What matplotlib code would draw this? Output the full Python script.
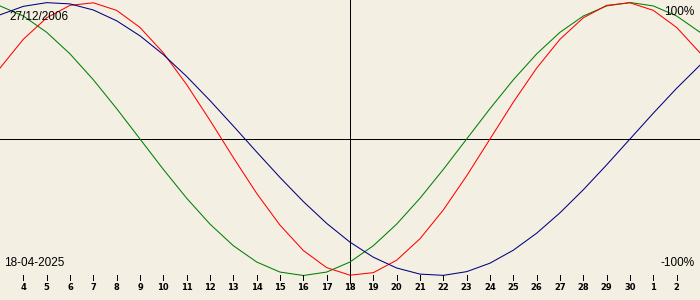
import matplotlib
matplotlib.use("Agg")
import matplotlib.pyplot as plt

# biorhythm for someone born 27/12/2006, centred on 18-04-2025
birth_label = "27/12/2006"
date_label = "18-04-2025"
top_label = "100%"
bottom_label = "-100%"

# day positions (days of April, 31.. continue into May)
days = list(range(3, 34))
day_labels = ["3", "4", "5", "6", "7", "8", "9", "10", "11", "12", "13", "14", "15", "16",
              "17", "18", "19", "20", "21", "22", "23", "24", "25", "26", "27", "28", "29",
              "30", "1", "2", "3"]
today = 18

physical = [0.5196, 0.7308, 0.8879, 0.9791, 0.9977, 0.9423, 0.8170, 0.6311, 0.3984, 0.1362,
            -0.1362, -0.3984, -0.6311, -0.8170, -0.9423, -0.9977, -0.9791, -0.8879, -0.7308,
            -0.5196, -0.2698, 0.0, 0.2698, 0.5196, 0.7308, 0.8879, 0.9791, 0.9977, 0.9423,
            0.8170, 0.6311]
emotional = [0.9749, 0.9010, 0.7818, 0.6235, 0.4339, 0.2225, 0.0, -0.2225, -0.4339, -0.6235,
             -0.7818, -0.9010, -0.9749, -1.0, -0.9749, -0.9010, -0.7818, -0.6235, -0.4339,
             -0.2225, 0.0, 0.2225, 0.4339, 0.6235, 0.7818, 0.9010, 0.9749, 1.0, 0.9749,
             0.9010, 0.7818]
intellectual = [0.9096, 0.9718, 0.9989, 0.9898, 0.9450, 0.8660, 0.7557, 0.6182, 0.4582, 0.2817,
                0.0951, -0.0951, -0.2817, -0.4582, -0.6182, -0.7557, -0.8660, -0.9450, -0.9898,
                -0.9989, -0.9718, -0.9096, -0.8146, -0.6901, -0.5406, -0.3717, -0.1893, 0.0,
                0.1893, 0.3717, 0.5406]

bg = "#f3efe3"

fig = plt.figure(figsize=(7, 3), dpi=100)
fig.patch.set_facecolor(bg)
ax = fig.add_axes([0, 0, 1, 1])
ax.set_facecolor(bg)
ax.set_xlim(3, 33)
ax.set_ylim(-1.1795, 1.0183)
ax.axis("off")

ax.axhline(0, color="black", lw=0.7, antialiased=False)
ax.vlines(today, -1.058, 1.1, color="black", lw=0.7, antialiased=False)

ax.plot(days, emotional, color="#008000", lw=0.75)
ax.plot(days, physical, color="#ff0000", lw=0.75)
ax.plot(days, intellectual, color="#000080", lw=0.75)

# day ticks along the bottom
for d, lab in zip(days[1:-1], day_labels[1:-1]):
    ax.vlines(d, -1.00, -1.035, color="black", lw=0.7, antialiased=False)
    ax.text(d, -1.087, lab, ha="center", va="center", fontsize=6,
            fontweight="bold", family="DejaVu Sans")

fig.text(9 / 700, 1 - 16.7 / 300, birth_label, ha="left", va="center",
         fontsize=8.5, family="Liberation Sans")
fig.text(694 / 700, 1 - 12 / 300, top_label, ha="right", va="center",
         fontsize=8.5, family="Liberation Sans")
fig.text(4 / 700, 1 - 262.5 / 300, date_label, ha="left", va="center",
         fontsize=8.5, family="Liberation Sans")
fig.text(695 / 700, 1 - 263 / 300, bottom_label, ha="right", va="center",
         fontsize=8.5, family="Liberation Sans")

fig.savefig("out.png", dpi=100, facecolor=bg)
